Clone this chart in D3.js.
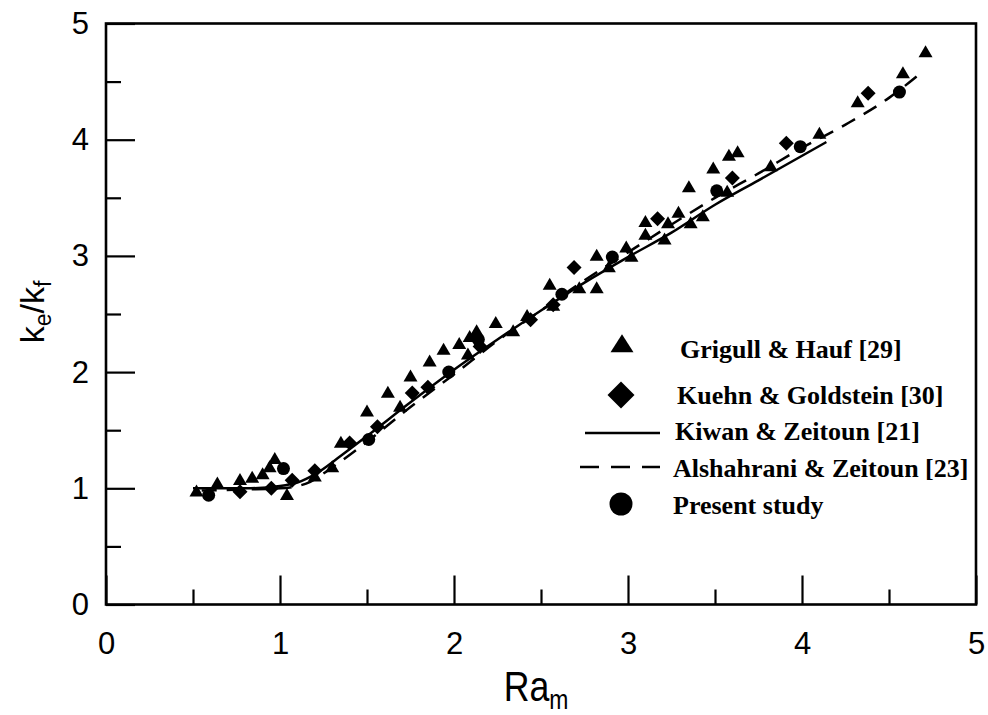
<!DOCTYPE html>
<html>
<head>
<meta charset="utf-8">
<script src="https://cdn.jsdelivr.net/npm/d3@7"></script>
<style>
  html, body { margin: 0; padding: 0; background: #fff; }
  svg { display: block; }
</style>
</head>
<body>
<svg id="chart" width="988" height="715"></svg>
<script>
// Effective conductivity ratio k_e/k_f versus modified Rayleigh number Ra_m

// Grigull & Hauf [29]
const grigullX = [0.52,0.64,0.77,0.84,0.90,0.94,0.97,1.04,1.20,1.30,1.35,1.50,1.62,1.69,1.75,1.86,1.94,2.03,2.08,2.09,2.13,2.24,2.34,2.42,2.55,2.57,2.72,2.82,2.82,2.89,2.99,3.02,3.10,3.10,3.21,3.23,3.29,3.36,3.43,3.35,3.49,3.57,3.58,3.63,3.82,4.10,4.32,4.58,4.71];
const grigullY = [0.97,1.04,1.07,1.09,1.12,1.18,1.25,0.94,1.10,1.18,1.39,1.66,1.82,1.70,1.96,2.09,2.19,2.24,2.15,2.30,2.35,2.42,2.35,2.48,2.75,2.57,2.72,3.00,2.72,2.90,3.07,2.99,3.29,3.18,3.14,3.28,3.37,3.28,3.34,3.59,3.75,3.55,3.86,3.89,3.77,4.05,4.32,4.57,4.75];

// Kuehn & Goldstein [30]
const kuehnX = [0.77,0.95,1.07,1.20,1.40,1.56,1.76,1.85,2.15,2.44,2.57,2.69,3.17,3.60,3.91,4.38];
const kuehnY = [0.97,1.00,1.07,1.15,1.39,1.53,1.82,1.87,2.22,2.45,2.58,2.90,3.32,3.67,3.97,4.40];

// Kiwan & Zeitoun [21] correlation
const kiwanX = [0.50,0.80,1.00,1.10,1.20,1.35,1.50,1.75,2.00,2.25,2.50,2.75,3.00,3.25,3.50,3.75,4.14];
const kiwanY = [1.00,1.00,1.02,1.05,1.12,1.28,1.45,1.74,2.02,2.28,2.53,2.77,2.99,3.20,3.44,3.65,3.98];

// Alshahrani & Zeitoun [23] correlation
const alshX = [0.55,0.80,1.00,1.15,1.30,1.50,1.75,2.00,2.25,2.50,2.75,3.00,3.25,3.50,3.75,4.00,4.25,4.50,4.68];
const alshY = [0.98,0.99,1.00,1.04,1.18,1.40,1.70,1.98,2.27,2.53,2.79,3.03,3.27,3.50,3.71,3.93,4.13,4.36,4.57];

// Present study
const presentX = [0.59,1.02,1.51,1.97,2.14,2.62,2.91,3.51,3.99,4.56];
const presentY = [0.94,1.17,1.42,2.00,2.28,2.67,2.99,3.56,3.94,4.41];

const xMajor = [0,1,2,3,4,5];
const xMinor = [0.5,1.5,2.5,3.5,4.5];
const yMajor = [0,1,2,3,4,5];
const yMinor = [0.5,1.5,2.5,3.5,4.5];

const legendLabels = ["Grigull & Hauf [29]", "Kuehn & Goldstein [30]", "Kiwan & Zeitoun [21]", "Alshahrani & Zeitoun [23]", "Present study"];

const svg = d3.select("#chart");
const plotLeft = 106, plotRight = 976, plotTop = 23.5, plotBottom = 604.5;
const x = d3.scaleLinear().domain([0, 5]).range([plotLeft, plotRight]);
const y = d3.scaleLinear().domain([0, 5]).range([plotBottom, plotTop]);

const sansFont = "'Liberation Sans', Arial, sans-serif";
const serifFont = "'Liberation Serif', 'Times New Roman', serif";

// Frame
svg.append("rect")
  .attr("x", plotLeft).attr("y", plotTop)
  .attr("width", plotRight - plotLeft).attr("height", plotBottom - plotTop)
  .attr("fill", "none").attr("stroke", "#000").attr("stroke-width", 2.6);

// Axes: major ticks with labels, minor ticks without, all pointing inward
function styleAxis(g) {
  g.select(".domain").remove();
  g.selectAll(".tick line").attr("stroke", "#000").attr("stroke-width", 2.2);
  g.selectAll(".tick text").attr("font-family", sansFont).attr("font-size", 31).attr("fill", "#000");
}

svg.append("g").attr("transform", `translate(0,${plotBottom})`)
  .call(d3.axisBottom(x).tickValues(xMajor).tickSize(-29).tickPadding(27).tickFormat(d3.format("d")))
  .call(styleAxis);
svg.append("g").attr("transform", `translate(0,${plotBottom})`)
  .call(d3.axisBottom(x).tickValues(xMinor).tickSize(-15).tickFormat(""))
  .call(styleAxis);
svg.append("g").attr("transform", `translate(${plotLeft},0)`)
  .call(d3.axisLeft(y).tickValues(yMajor).tickSize(-29).tickPadding(17).tickFormat(d3.format("d")))
  .call(styleAxis);
svg.append("g").attr("transform", `translate(${plotLeft},0)`)
  .call(d3.axisLeft(y).tickValues(yMinor).tickSize(-15).tickFormat(""))
  .call(styleAxis);

// Axis titles
const xt = svg.append("text")
  .attr("transform", "translate(536,701) scale(0.85,1)")
  .attr("text-anchor", "middle")
  .attr("font-family", sansFont).attr("font-size", 42).attr("fill", "#000");
xt.append("tspan").text("Ra");
xt.append("tspan").attr("font-size", 27).attr("dy", 8).text("m");

const yt = svg.append("text")
  .attr("transform", "translate(44,312) rotate(-90)")
  .attr("text-anchor", "middle")
  .attr("font-family", sansFont).attr("font-size", 34).attr("fill", "#000");
yt.append("tspan").text("k");
yt.append("tspan").attr("font-size", 23).attr("dy", 7).text("e");
yt.append("tspan").attr("dy", -7).text("/k");
yt.append("tspan").attr("font-size", 23).attr("dy", 7).text("f");

// Correlation curves
const line = d3.line().x(d => x(d[0])).y(d => y(d[1])).curve(d3.curveMonotoneX);
svg.append("path")
  .datum(kiwanX.map((v, i) => [v, kiwanY[i]]))
  .attr("d", line).attr("fill", "none").attr("stroke", "#000").attr("stroke-width", 2.5);
svg.append("path")
  .datum(alshX.map((v, i) => [v, alshY[i]]))
  .attr("d", line).attr("fill", "none").attr("stroke", "#000").attr("stroke-width", 2.5)
  .attr("stroke-dasharray", "15,10");

// Marker shapes
function triPath(w, h) {
  return `M0,${-h * 0.6}L${w / 2},${h * 0.4}L${-w / 2},${h * 0.4}Z`;
}
function diamondPath(r) {
  return `M0,${-r}L${r},0L0,${r}L${-r},0Z`;
}

svg.append("g").selectAll("path")
  .data(grigullX.map((v, i) => [v, grigullY[i]]))
  .join("path")
  .attr("transform", d => `translate(${x(d[0])},${y(d[1])})`)
  .attr("d", triPath(14, 12)).attr("fill", "#000");

svg.append("g").selectAll("path")
  .data(kuehnX.map((v, i) => [v, kuehnY[i]]))
  .join("path")
  .attr("transform", d => `translate(${x(d[0])},${y(d[1])})`)
  .attr("d", diamondPath(7.5)).attr("fill", "#000");

svg.append("g").selectAll("circle")
  .data(presentX.map((v, i) => [v, presentY[i]]))
  .join("circle")
  .attr("cx", d => x(d[0])).attr("cy", d => y(d[1])).attr("r", 6.5).attr("fill", "#000");

// Legend
const lg = svg.append("g");
const legendText = [[680, 358], [677, 404], [675, 440], [673, 477], [673, 514]];
lg.selectAll("text")
  .data(legendLabels)
  .join("text")
  .attr("x", (d, i) => legendText[i][0]).attr("y", (d, i) => legendText[i][1])
  .attr("font-family", serifFont).attr("font-weight", "bold").attr("font-size", 26)
  .attr("fill", "#000").text(d => d);

lg.append("path").attr("transform", "translate(622,345)").attr("d", triPath(23, 18)).attr("fill", "#000");
lg.append("path").attr("transform", "translate(621,395)").attr("d", diamondPath(13.5)).attr("fill", "#000");
lg.append("line").attr("x1", 585).attr("x2", 660).attr("y1", 433).attr("y2", 433)
  .attr("stroke", "#000").attr("stroke-width", 2.5);
lg.append("line").attr("x1", 580).attr("x2", 660).attr("y1", 467).attr("y2", 467)
  .attr("stroke", "#000").attr("stroke-width", 2.5).attr("stroke-dasharray", "19,12");
lg.append("circle").attr("cx", 621).attr("cy", 504).attr("r", 11.5).attr("fill", "#000");
</script>
</body>
</html>
